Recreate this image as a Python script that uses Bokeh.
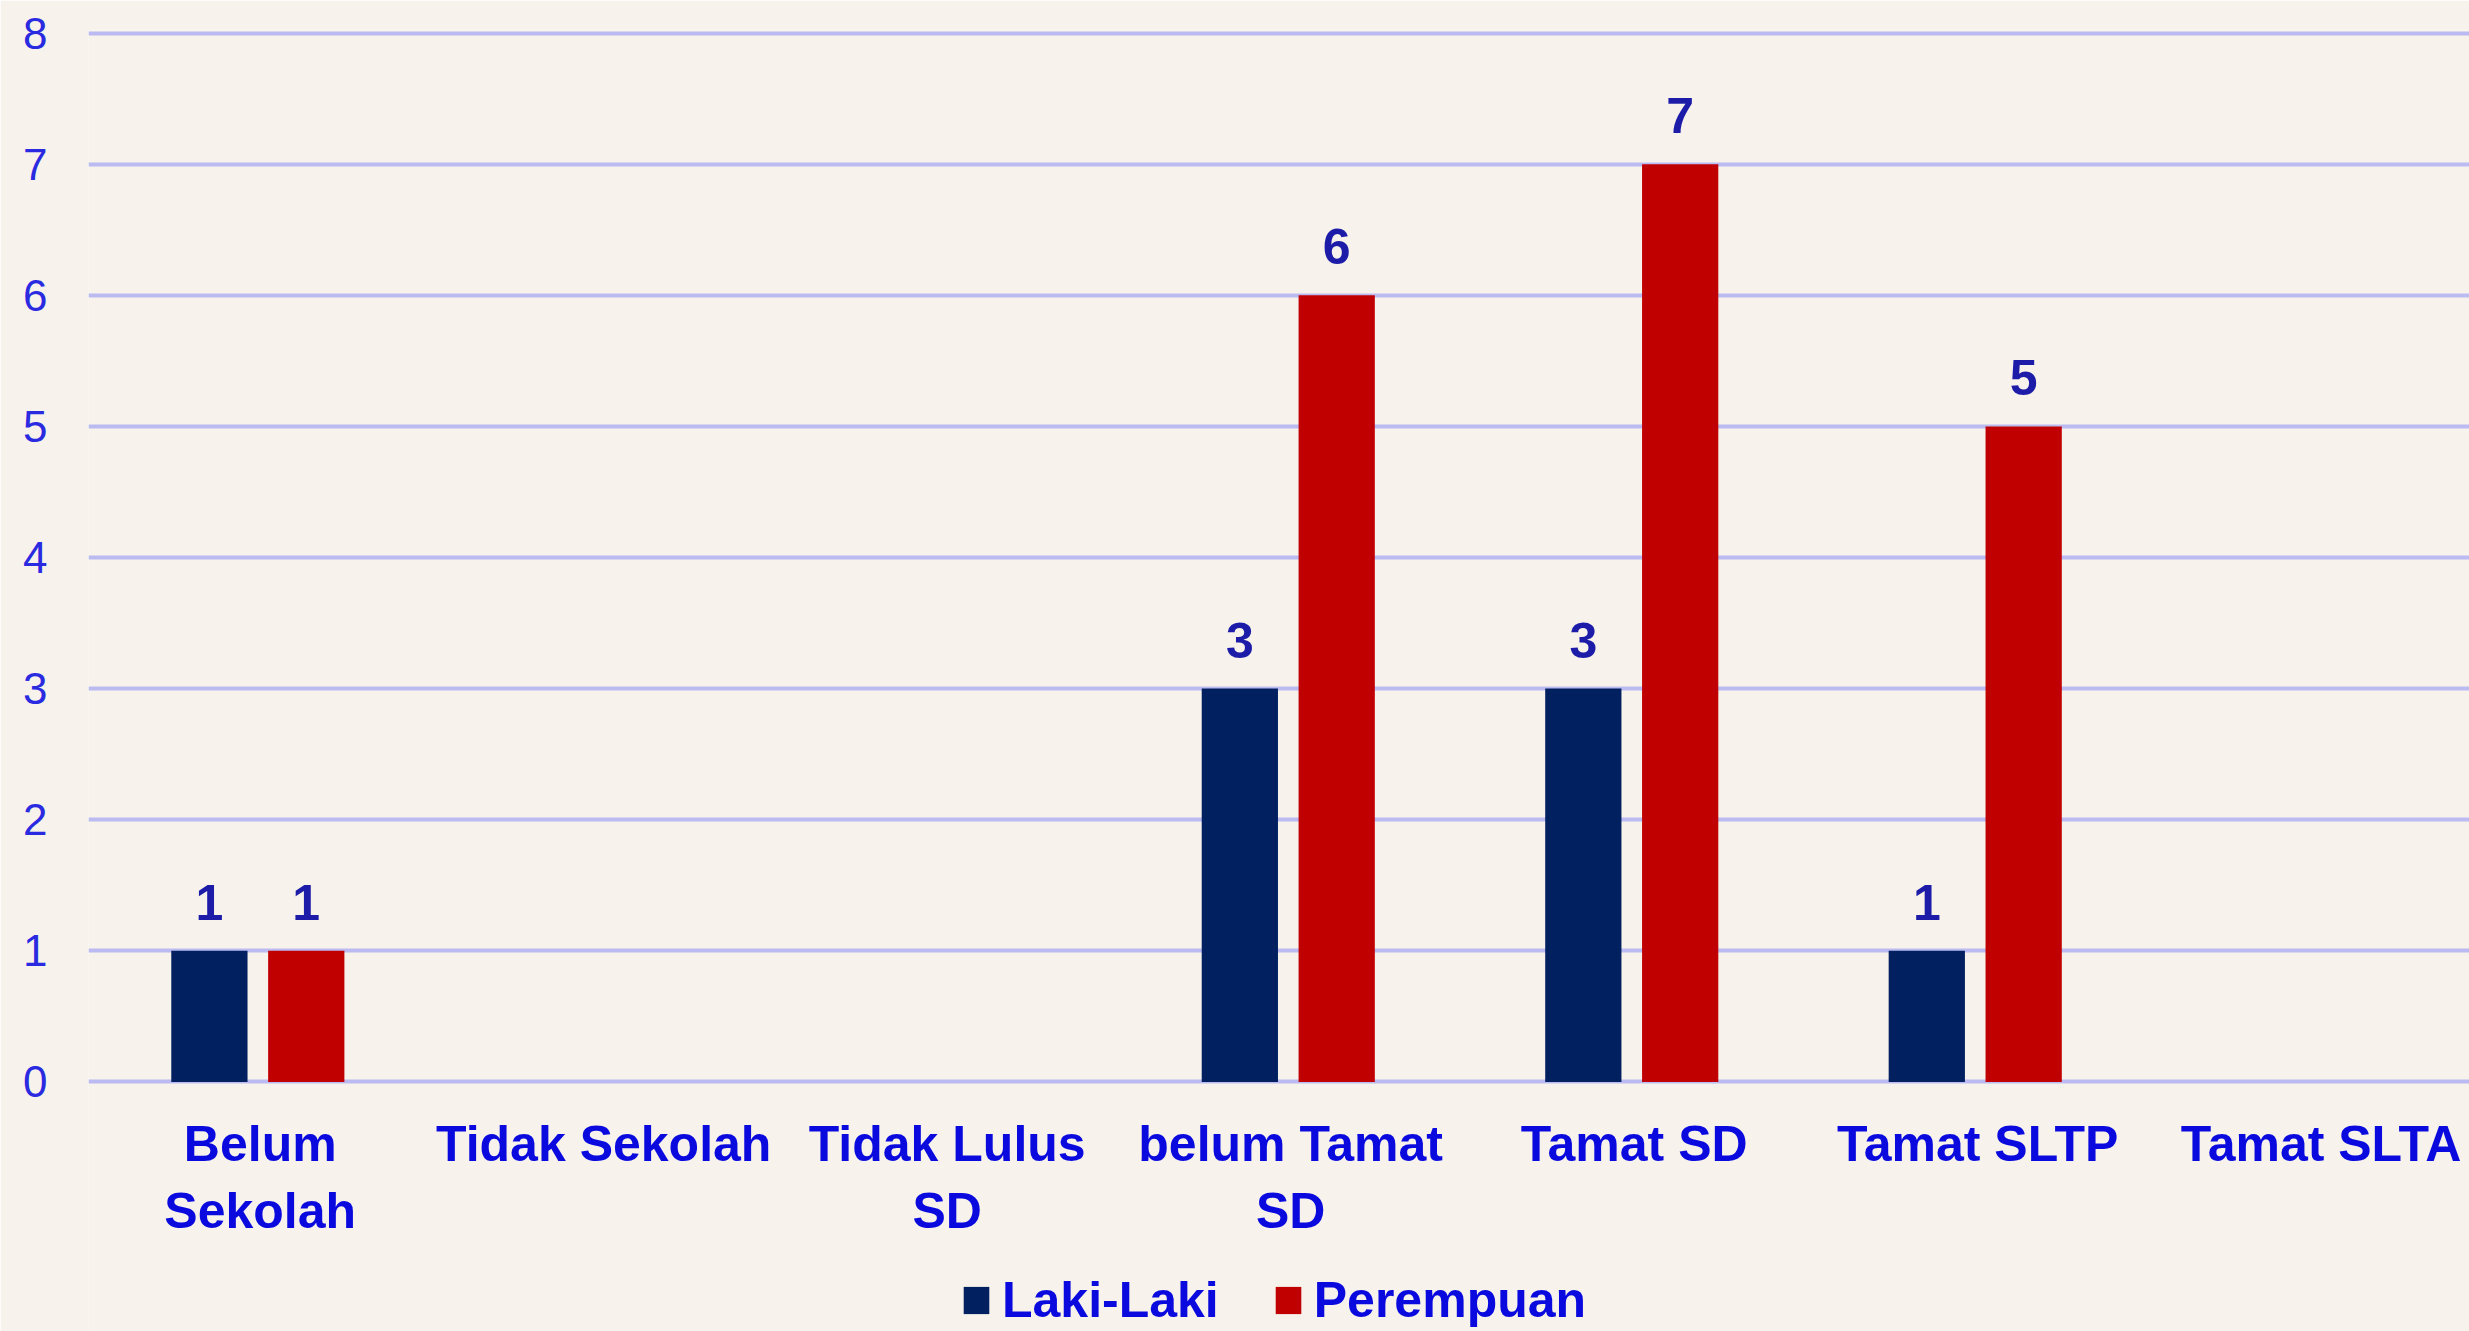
from bokeh.plotting import figure
from bokeh.models import ColumnDataSource, Range1d, FixedTicker, LabelSet, Legend, LegendItem
from bokeh.transform import dodge
from bokeh.core.properties import value
from bokeh.embed import file_html
from bokeh.resources import INLINE

categories = ["Belum Sekolah", "Tidak Sekolah", "Tidak Lulus SD", "belum Tamat SD",
              "Tamat SD", "Tamat SLTP", "Tamat SLTA"]
category_labels = ["Belum\nSekolah", "Tidak Sekolah", "Tidak Lulus\nSD", "belum Tamat\nSD",
                   "Tamat SD", "Tamat SLTP", "Tamat SLTA"]
laki_laki = [1, 0, 0, 3, 3, 1, 0]
perempuan = [1, 0, 0, 6, 7, 5, 0]
series_names = ["Laki-Laki", "Perempuan"]
y_ticks = [0, 1, 2, 3, 4, 5, 6, 7, 8]

FONT = "Liberation Sans"
BG = "#f7f3ec"
NAVY = "#002060"
RED = "#c00000"
BLUE = "#0a0ade"
LABEL_BLUE = "#1c1ca8"

pos = list(range(len(categories)))
src = ColumnDataSource(dict(pos=pos, cat=categories, laki=laki_laki, per=perempuan))

# frame runs to the bottom of the canvas; the category axis sits at y=0 inside it
p = figure(width=2469, height=1331, output_backend="svg", toolbar_location=None,
           x_range=Range1d(-0.5, 6.432), y_range=Range1d(-1.904, 8.02),
           min_border_left=88, min_border_top=30, min_border_right=0, min_border_bottom=0)
p.background_fill_color = BG
p.border_fill_color = BG
p.outline_line_color = None

r1 = p.vbar(x=dodge("pos", -0.148, range=p.x_range), top="laki", width=0.222, bottom=0,
            source=src, fill_color=NAVY, line_color=None)
r2 = p.vbar(x=dodge("pos", 0.134, range=p.x_range), top="per", width=0.222, bottom=0,
            source=src, fill_color=RED, line_color=None)

lk = [i for i, v in enumerate(laki_laki) if v > 0]
pr = [i for i, v in enumerate(perempuan) if v > 0]
src_l = ColumnDataSource(dict(pos=[pos[i] for i in lk], v=[laki_laki[i] for i in lk],
                              t=[str(laki_laki[i]) for i in lk]))
src_p = ColumnDataSource(dict(pos=[pos[i] for i in pr], v=[perempuan[i] for i in pr],
                              t=[str(perempuan[i]) for i in pr]))
for s, off in ((src_l, -0.148), (src_p, 0.134)):
    ls = LabelSet(x=dodge("pos", off, range=p.x_range), y="v", text="t", source=s,
                  y_offset=31, text_align="center", text_baseline="alphabetic",
                  text_font=value(FONT), text_font_style="bold", text_font_size="50px",
                  text_color=LABEL_BLUE)
    p.add_layout(ls)

# grid
p.xgrid.visible = False
p.ygrid.ticker = FixedTicker(ticks=y_ticks)
p.ygrid.grid_line_color = "#bbbbf1"
p.ygrid.grid_line_width = 4

# y axis
p.yaxis.ticker = FixedTicker(ticks=y_ticks)
p.yaxis.axis_line_color = None
p.yaxis.major_tick_line_color = None
p.yaxis.minor_tick_line_color = None
p.yaxis.major_label_text_font = FONT
p.yaxis.major_label_text_font_size = "44px"
p.yaxis.major_label_text_color = "#2a2ae0"
p.yaxis.major_label_standoff = 35

# x axis (category labels), anchored at y = 0
p.xaxis.fixed_location = 0
p.xaxis.ticker = FixedTicker(ticks=pos)
p.xaxis.major_label_overrides = {i: lab for i, lab in zip(pos, category_labels)}
p.xaxis.axis_line_color = None
p.xaxis.major_tick_line_color = None
p.xaxis.minor_tick_line_color = None
p.xaxis.major_label_text_font = FONT
p.xaxis.major_label_text_font_style = "bold"
p.xaxis.major_label_text_font_size = "50px"
p.xaxis.major_label_text_color = BLUE
p.xaxis.major_label_standoff = 28

legend = Legend(items=[LegendItem(label=series_names[0], renderers=[r1]),
                       LegendItem(label=series_names[1], renderers=[r2])],
                orientation="horizontal", location=(872, 2),
                glyph_width=32, glyph_height=34, label_standoff=10, spacing=53,
                padding=0, margin=0,
                label_text_font=FONT, label_text_font_style="bold",
                label_text_font_size="50px", label_text_color=BLUE,
                background_fill_alpha=0, border_line_color=None)
p.add_layout(legend, "center")

open("out.html", "w").write(file_html(p, INLINE))
